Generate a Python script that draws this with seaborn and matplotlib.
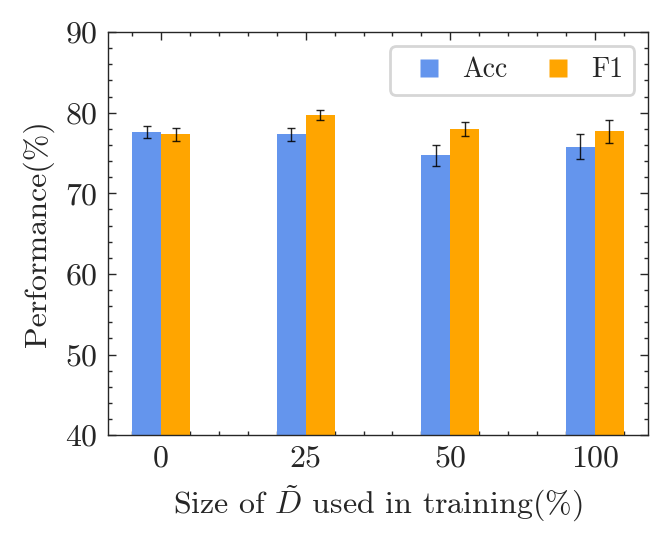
import matplotlib
matplotlib.use("Agg")
import matplotlib.pyplot as plt
import pandas as pd
import seaborn as sns
from matplotlib.lines import Line2D
from matplotlib.ticker import AutoMinorLocator, MultipleLocator

# values
sizes = ["0", "25", "50", "100"]
metrics = ["Acc", "F1"]
acc_mean = [77.6, 77.3, 74.7, 75.8]
acc_err = [0.77, 0.77, 1.35, 1.6]
f1_mean = [77.3, 79.7, 78.0, 77.7]
f1_err = [0.77, 0.58, 0.9, 1.4]
colors = ["#6495ED", "#FFA500"]

sns.set_theme(style="ticks")
plt.rcParams.update({
    "font.family": "serif",
    "font.serif": ["cmr10"],
    "mathtext.fontset": "cm",
    "axes.formatter.use_mathtext": True,
    "font.size": 11,
    "axes.linewidth": 0.5,
    "xtick.direction": "in",
    "ytick.direction": "in",
    "xtick.top": True,
    "ytick.right": True,
    "xtick.major.size": 3,
    "ytick.major.size": 3,
    "xtick.minor.size": 1.5,
    "ytick.minor.size": 1.5,
    "xtick.major.width": 0.5,
    "ytick.major.width": 0.5,
    "xtick.minor.width": 0.5,
    "ytick.minor.width": 0.5,
    "xtick.labelsize": 11.5,
    "ytick.labelsize": 11.5,
    "axes.labelsize": 11.5,
})

df = pd.DataFrame({
    "size": sizes * 2,
    "metric": ["Acc"] * len(sizes) + ["F1"] * len(sizes),
    "value": acc_mean + f1_mean,
})

fig, ax = plt.subplots(figsize=(3.345, 2.72), dpi=200)
fig.subplots_adjust(left=0.161, right=0.969, top=0.941, bottom=0.200)

sns.barplot(
    data=df, x="size", y="value", hue="metric",
    order=sizes, hue_order=metrics, palette=colors,
    width=0.4, saturation=1, errorbar=None, linewidth=0,
    edgecolor="none", legend=False, ax=ax,
)

# error bars drawn on top of the seaborn bars
for container, means, errs in zip(ax.containers, [acc_mean, f1_mean], [acc_err, f1_err]):
    xs = [b.get_x() + b.get_width() / 2 for b in container]
    ax.errorbar(xs, means, yerr=errs, fmt="none", ecolor="black",
                elinewidth=0.5, capsize=1.3, capthick=0.5, alpha=0.85)

ax.set_xlim(-0.37, 3.37)
ax.set_ylim(40, 90)
ax.yaxis.set_major_locator(MultipleLocator(10))
ax.yaxis.set_minor_locator(AutoMinorLocator(5))
ax.xaxis.set_minor_locator(MultipleLocator(0.2))
ax.tick_params(which="both", top=True, right=True, direction="in")

ax.set_xlabel(r"Size of $\tilde{D}$ used in training(%)", labelpad=4)
ax.set_ylabel("Performance(%)")

# square markers as legend keys
handles = [Line2D([], [], marker="s", linestyle="none", markersize=6.5,
                  markerfacecolor=c, markeredgecolor="none") for c in colors]
ax.legend(handles, metrics, loc="upper right", ncol=2, fontsize=10,
          handlelength=2, handletextpad=0.2, columnspacing=0.8,
          frameon=True, fancybox=True, edgecolor="0.8", framealpha=0.8)

for side in ax.spines.values():
    side.set_linewidth(0.5)

fig.savefig("out.png", dpi=200)
